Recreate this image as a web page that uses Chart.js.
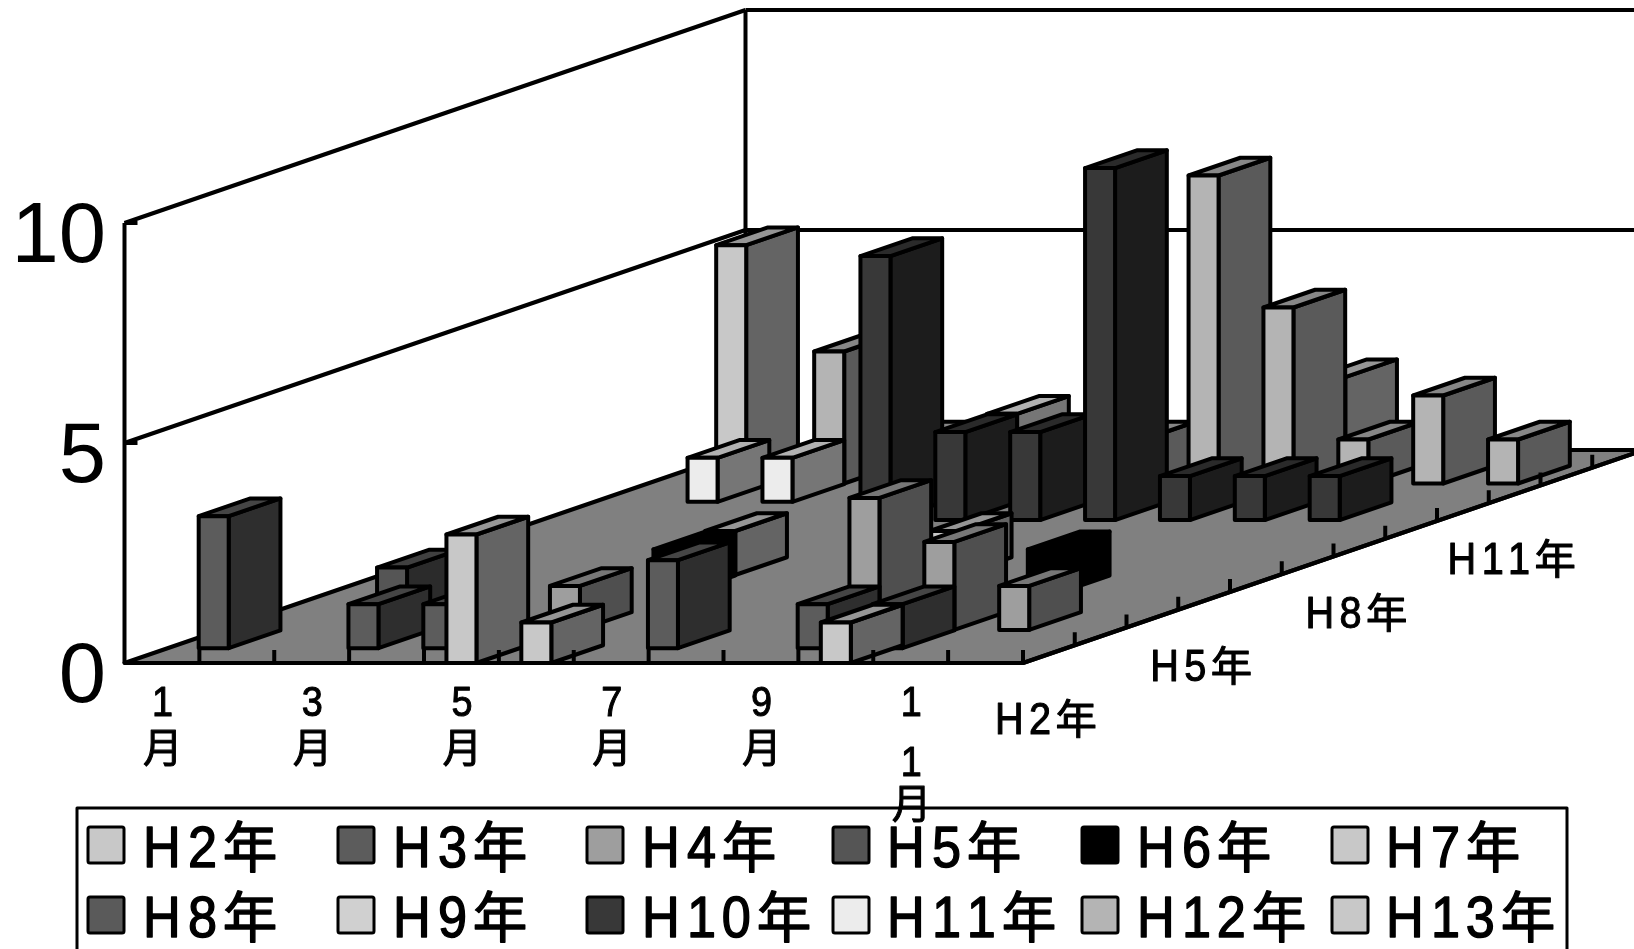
<!DOCTYPE html>
<html>
<head>
<meta charset="utf-8">
<style>
html, body { margin: 0; padding: 0; background: #fff; overflow: hidden; }
canvas { display: block; }
</style>
<script src="https://cdn.jsdelivr.net/npm/chart.js@4"></script>
</head>
<body>
<canvas id="chart3d" width="1634" height="949"></canvas>
<script>
const months = ['1月','2月','3月','4月','5月','6月','7月','8月','9月','10月','11月','12月'];
const years = ['H2年','H3年','H4年','H5年','H6年','H7年','H8年','H9年','H10年','H11年','H12年','H13年'];
const greys = ['#c8c8c8','#5c5c5c','#9e9e9e','#555555','#000000','#c8c8c8','#5a5a5a','#d0d0d0','#383838','#ececec','#b4b4b4','#c8c8c8'];

const h2  = [0,0,0,0,3,1,0,0,0,1,0,0];
const h3  = [3,0,1,1,0,0,2,0,1,1,0,0];
const h4  = [0,0,0,0,1,0,0,0,3,2,1,0];
const h5  = [0,1,0,0,0,0,0,0,0,0,0,0];
const h6  = [0,0,0,0,1,0,0,0,0,1,0,0];
const h7  = [0,0,0,0,1,0,0,1,0,0,0,0];
const h8  = [0,0,0,0,0,0,0,0,0,0,0,0];
const h9  = [0,0,0,0,0,0,0,0,0,0,0,0];
const h10 = [0,0,0,0,6,2,2,8,1,1,1,0];
const h11 = [0,1,1,0,0,2,0,0,0,0,0,0];
const h12 = [0,0,3,1,0,0,1,7,4,1,2,1];
const h13 = [5,0,0,0,0,0,0,0,2,0,0,0];
const series = [h2,h3,h4,h5,h6,h7,h8,h9,h10,h11,h12,h13];

// one row further back moves the projection by this much
const stepX = 51.75, stepY = -17.75;
// bars sit a little off the floor grid in the original
const barBase = 3.5, barStepY = -18.3;
const barHalf = 15;

function shade(hex, f) {
  const v = Math.round(parseInt(hex.slice(1, 3), 16) * f);
  return 'rgb(' + v + ',' + v + ',' + v + ')';
}

function poly(ctx, pts, fill) {
  ctx.beginPath();
  pts.forEach((p, i) => i ? ctx.lineTo(p[0], p[1]) : ctx.moveTo(p[0], p[1]));
  ctx.closePath();
  if (fill) { ctx.fillStyle = fill; ctx.fill(); }
  ctx.stroke();
}

function line(ctx, x1, y1, x2, y2) {
  ctx.beginPath();
  ctx.moveTo(x1, y1);
  ctx.lineTo(x2, y2);
  ctx.stroke();
}

function advance(ch, size) {
  if (ch === 'H') return size * 0.777;
  if (ch === '年' || ch === '月') return size * 0.9;
  return size * 0.6;
}

// narrow latin glyphs with wide advance, like the old office font
function label(ctx, text, x, y, size) {
  for (const ch of text) {
    const wide = ch === '年' || ch === '月';
    ctx.save();
    ctx.translate(x, y);
    if (!wide) ctx.scale(0.9, 1);
    ctx.font = (wide ? size * 0.94 : size) + 'px "Liberation Sans", "Noto Sans CJK JP"';
    ctx.lineWidth = size * 0.025;
    ctx.strokeStyle = '#000';
    ctx.fillText(ch, 0, 0);
    ctx.strokeText(ch, 0, 0);
    ctx.restore();
    x += advance(ch, size);
  }
}

function labelWidth(text, size) {
  let w = 0;
  for (const ch of text) w += advance(ch, size);
  return w;
}

function drawFrame(ctx, chart) {
  const x = chart.scales.x, y = chart.scales.y;
  const x0 = x.left, x1 = x.right, y0 = y.getPixelForValue(0);
  const dx = stepX * 12, dy = stepY * 12;
  poly(ctx, [[x0, y0], [x1, y0], [x1 + dx, y0 + dy], [x0 + dx, y0 + dy]], '#808080');
  y.ticks.forEach(t => {
    const py = y.getPixelForValue(t.value);
    if (t.value > 0) {
      line(ctx, x0, py, x0 + 13, py);
      line(ctx, x0, py, x0 + dx, py + dy);
      line(ctx, x0 + dx, py + dy, x1 + dx, py + dy);
    }
  });
  line(ctx, x0, y0, x0, y.getPixelForValue(10));
  line(ctx, x0 + dx, y0 + dy, x0 + dx, y.getPixelForValue(10) + dy);
}

function drawBar(ctx, chart, month, row, value, color) {
  const x = chart.scales.x, y = chart.scales.y;
  const cx = x.getPixelForValue(month) + row * stepX;
  const off = barBase + row * barStepY;
  // front row stops on the axis line
  const yb = Math.min(y.getPixelForValue(0), y.getPixelForValue(0) + off);
  const yt = y.getPixelForValue(value) + off;
  const l = cx - barHalf, r = cx + barHalf;
  poly(ctx, [[r, yb], [r + stepX, yb + stepY], [r + stepX, yt + stepY], [r, yt]], shade(color, 0.5));
  poly(ctx, [[l, yt], [r, yt], [r + stepX, yt + stepY], [l + stepX, yt + stepY]], shade(color, 0.75));
  poly(ctx, [[l, yb], [r, yb], [r, yt], [l, yt]], color);
}

function drawTicks(ctx, chart) {
  const x = chart.scales.x, y = chart.scales.y;
  const y0 = y.getPixelForValue(0), step = x.width / months.length;
  for (let i = 1; i <= months.length; i++) {
    line(ctx, x.left + i * step, y0, x.left + i * step, y0 - 13);
  }
  for (let k = 1; k < years.length; k++) {
    line(ctx, x.right + k * stepX, y0 + k * stepY, x.right + k * stepX, y0 + k * stepY - 13);
  }
  line(ctx, x.left, y0, x.right, y0);
  line(ctx, x.right, y0, x.right + 12 * stepX, y0 + 12 * stepY);
}

function drawAxisText(ctx, chart) {
  const x = chart.scales.x, y = chart.scales.y;
  const y0 = y.getPixelForValue(0);
  ctx.fillStyle = '#000';
  ctx.textBaseline = 'alphabetic';

  ctx.textAlign = 'right';
  ctx.font = '85px "Liberation Sans"';
  y.ticks.forEach(t => {
    ctx.fillText(t.label, 106, y.getPixelForValue(t.value) + 39);
  });

  ctx.textAlign = 'left';
  months.forEach((m, i) => {
    if (i % 2) return;
    const cx = x.getPixelForValue(i);
    const digits = m.slice(0, -1);
    for (let d = 0; d < digits.length; d++) {
      label(ctx, digits[d], cx - 10, y0 + 53 + d * 60, 42);
    }
    const gap = digits.length > 1 ? 42 : 46;
    label(ctx, '月', cx - 19, y0 + 53 + (digits.length - 1) * 60 + gap, 42);
  });

  years.forEach((name, k) => {
    if (k % 3) return;
    const cx = x.right + k * stepX + 22;
    label(ctx, name, cx - labelWidth(name, 44) / 2, y0 + k * stepY + 71, 44);
  });
}

function drawLegend(ctx, chart) {
  const cols = [88, 338, 587, 833, 1082, 1332];
  const textX = [143, 393, 642, 887, 1137, 1386];
  const rows = [827, 897];
  ctx.lineWidth = 3;
  ctx.strokeStyle = '#000';
  ctx.beginPath();
  ctx.moveTo(77, 960);
  ctx.lineTo(77, 808);
  ctx.lineTo(1567, 808);
  ctx.lineTo(1567, 960);
  ctx.stroke();
  chart.data.datasets.forEach((ds, i) => {
    const c = i % 6, r = Math.floor(i / 6);
    ctx.fillStyle = ds.backgroundColor;
    ctx.lineWidth = 3;
    ctx.beginPath();
    ctx.roundRect(cols[c], rows[r], 36, 36, 2);
    ctx.fill();
    ctx.stroke();
    ctx.fillStyle = '#000';
    label(ctx, ds.label, textX[c], rows[r] + 40, 58);
  });
}

const bars3d = {
  id: 'bars3d',
  beforeDraw(chart) {
    const ctx = chart.ctx;
    ctx.save();
    ctx.fillStyle = '#fff';
    ctx.fillRect(0, 0, chart.width, chart.height);
    ctx.restore();
  },
  // the library's flat bars are replaced by the boxes, same scales
  beforeDatasetsDraw(chart) {
    const ctx = chart.ctx;
    ctx.save();
    ctx.strokeStyle = '#000';
    ctx.lineWidth = 4;
    ctx.lineJoin = 'round';
    drawFrame(ctx, chart);
    for (let k = chart.data.datasets.length - 1; k >= 0; k--) {
      const ds = chart.data.datasets[k];
      ds.data.forEach((v, m) => {
        if (v > 0) drawBar(ctx, chart, m, k, v, ds.backgroundColor);
      });
    }
    drawTicks(ctx, chart);
    drawAxisText(ctx, chart);
    drawLegend(ctx, chart);
    ctx.restore();
    return false;
  }
};

new Chart(document.getElementById('chart3d'), {
  type: 'bar',
  data: {
    labels: months,
    datasets: series.map((s, i) => ({ label: years[i], data: s, backgroundColor: greys[i] }))
  },
  options: {
    responsive: false,
    animation: false,
    layout: { padding: { left: 124.5, right: 611, top: 223, bottom: 286 } },
    plugins: { legend: { display: false }, tooltip: { enabled: false } },
    scales: {
      x: {
        ticks: { display: false, autoSkip: false },
        grid: { display: false, drawTicks: false },
        border: { display: false }
      },
      y: {
        min: 0,
        max: 10,
        ticks: { display: false, stepSize: 5 },
        grid: { display: false, drawTicks: false },
        border: { display: false }
      }
    }
  },
  plugins: [bars3d]
});
</script>
</body>
</html>
